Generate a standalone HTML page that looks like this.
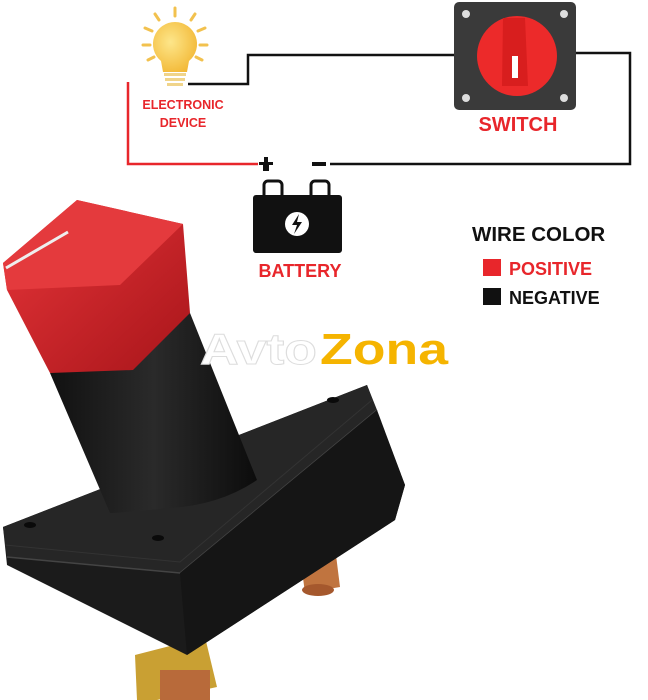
<!DOCTYPE html>
<html><head><style>
html,body{margin:0;padding:0;background:#fff;width:648px;height:700px;overflow:hidden}
svg{display:block}
text{font-family:"Liberation Sans",sans-serif;font-weight:bold}
</style></head><body>
<svg width="648" height="700" viewBox="0 0 648 700">
<defs>
<linearGradient id="red" x1="0" y1="0" x2="1" y2="1"><stop offset="0" stop-color="#e8363a"/><stop offset="1" stop-color="#a8151a"/></linearGradient>
<linearGradient id="cyl" x1="0" y1="0" x2="1" y2="0"><stop offset="0" stop-color="#111"/><stop offset="0.5" stop-color="#2a2a2a"/><stop offset="1" stop-color="#0c0c0c"/></linearGradient>
<radialGradient id="bulb" cx="0.4" cy="0.4" r="0.7"><stop offset="0" stop-color="#fde68a"/><stop offset="1" stop-color="#f2b632"/></radialGradient>
</defs>
<polyline points="128,82 128,164 258,164" fill="none" stroke="#e8262b" stroke-width="2.5"/>
<polyline points="188,84 248,84 248,55 456,55" fill="none" stroke="#111" stroke-width="2.5"/>
<polyline points="574,53 630,53 630,164 330,164" fill="none" stroke="#111" stroke-width="2.5"/>
<g stroke="#f2c14e" stroke-width="3" stroke-linecap="round">
<line x1="175" y1="8" x2="175" y2="16"/><line x1="155" y1="14" x2="159" y2="20"/><line x1="195" y1="14" x2="191" y2="20"/>
<line x1="145" y1="28" x2="152" y2="31"/><line x1="205" y1="28" x2="198" y2="31"/>
<line x1="143" y1="45" x2="150" y2="45"/><line x1="207" y1="45" x2="200" y2="45"/>
<line x1="148" y1="60" x2="154" y2="57"/><line x1="202" y1="60" x2="196" y2="57"/>
</g>
<path d="M175,22 a22,22 0 0 1 14,39 l-2,11 h-24 l-2,-11 a22,22 0 0 1 14,-39z" fill="url(#bulb)"/>
<rect x="164" y="73" width="22" height="3" fill="#f0d48a"/><rect x="165" y="78" width="20" height="3" fill="#f0d48a"/><rect x="167" y="83" width="16" height="3" fill="#f0d48a"/>
<text x="183" y="109" font-size="12.5" fill="#e8262b" text-anchor="middle">ELECTRONIC</text>
<text x="183" y="127" font-size="12.5" fill="#e8262b" text-anchor="middle">DEVICE</text>
<rect x="454" y="2" width="122" height="108" rx="5" fill="#3a3a3a"/>
<circle cx="466" cy="14" r="4" fill="#ddd"/><circle cx="564" cy="14" r="4" fill="#ddd"/>
<circle cx="466" cy="98" r="4" fill="#ddd"/><circle cx="564" cy="98" r="4" fill="#ddd"/>
<circle cx="517" cy="56" r="40" fill="#ec2a2a"/>
<path d="M503,18 h22 l3,68 h-26z" fill="#d81e1e"/>
<rect x="512" y="56" width="6" height="22" fill="#fff"/>
<text x="518" y="131" font-size="20" fill="#e8262b" text-anchor="middle">SWITCH</text>
<rect x="263" y="165" width="6" height="6" fill="#111"/><rect x="259" y="162" width="14" height="3" fill="#111"/><rect x="264" y="157" width="4" height="13" fill="#111"/>
<rect x="312" y="162" width="14" height="4" fill="#111"/>
<path d="M264,195 v-10 a4,4 0 0 1 4,-4 h10 a4,4 0 0 1 4,4 v10" fill="none" stroke="#111" stroke-width="3"/>
<path d="M311,195 v-10 a4,4 0 0 1 4,-4 h10 a4,4 0 0 1 4,4 v10" fill="none" stroke="#111" stroke-width="3"/>
<rect x="253" y="195" width="89" height="58" rx="3" fill="#111"/>
<circle cx="297" cy="224" r="12" fill="#fff"/>
<path d="M299,214 l-7,11 h5 l-3,9 l8,-12 h-5z" fill="#111"/>
<text x="300" y="277" font-size="18" fill="#e8262b" text-anchor="middle">BATTERY</text>
<text x="472" y="241" font-size="20.5" fill="#111">WIRE COLOR</text>
<rect x="483" y="259" width="18" height="17" fill="#e8262b"/>
<text x="509" y="275" font-size="18" fill="#e8262b">POSITIVE</text>
<rect x="483" y="288" width="18" height="17" fill="#111"/>
<text x="509" y="304" font-size="18" fill="#111">NEGATIVE</text>
<path d="M300,555 l35,-8 l5,40 l-35,6z" fill="#c0743f"/>
<ellipse cx="318" cy="590" rx="16" ry="6" fill="#a5582d"/>
<path d="M135,655 l70,-18 l12,50 l-60,13 h-20z" fill="#c9a033"/>
<rect x="160" y="670" width="50" height="30" fill="#b86a3a"/>
<polygon points="3,527 367,385 405,485 395,520 187,655 7,565" fill="#1b1b1b"/>
<polygon points="3,527 367,385 377,410 180,573 7,557" fill="#262626"/>
<polyline points="7,557 180,573 377,410" fill="none" stroke="#444" stroke-width="1.5"/>
<polyline points="5,545 180,562 372,400" fill="none" stroke="#333" stroke-width="1"/>
<polygon points="180,573 377,410 405,485 395,520 187,655" fill="#151515"/>
<ellipse cx="30" cy="525" rx="6" ry="3" fill="#0a0a0a"/><ellipse cx="158" cy="538" rx="6" ry="3" fill="#0a0a0a"/><ellipse cx="333" cy="400" rx="6" ry="3" fill="#0a0a0a"/>
<path d="M50,373 L190,313 L257,480 Q220,505 170,508 Q130,512 110,513 Z" fill="url(#cyl)"/>
<polygon points="3,263 77,200 183,224 190,313 133,370 50,373 7,290" fill="url(#red)"/>
<polygon points="3,263 77,200 183,224 120,285 7,290" fill="#e43a3d"/>
<line x1="6" y1="268" x2="68" y2="232" stroke="#eee" stroke-width="3"/>
<text x="200" y="364" font-size="44" font-weight="900" fill="#fff" stroke="#ddd" stroke-width="1" textLength="117" lengthAdjust="spacingAndGlyphs">Avto</text>
<text x="320" y="364" font-size="44" font-weight="900" fill="#f5b400" textLength="128" lengthAdjust="spacingAndGlyphs">Zona</text>
</svg>
</body></html>
